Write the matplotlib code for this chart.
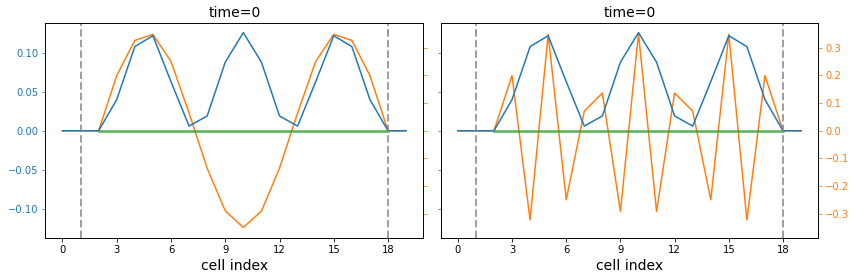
import numpy as np
import matplotlib
matplotlib.use("Agg")
import matplotlib.pyplot as plt

cells = list(range(20))

# values
blue = [0, 0, 0, 0.040, 0.108, 0.122, 0.063, 0.006, 0.019, 0.088,
        0.126, 0.088, 0.019, 0.006, 0.063, 0.122, 0.108, 0.040, 0, 0]
orange_left = [0, 0, 0, 0.199, 0.326, 0.348, 0.250, 0.064, -0.135, -0.289,
               -0.349, -0.290, -0.135, 0.064, 0.250, 0.348, 0.326, 0.199, 0, 0]
orange_right = [0, 0, 0, 0.199, -0.322, 0.348, -0.249, 0.071, 0.136, -0.291,
                0.350, -0.291, 0.136, 0.071, -0.249, 0.348, -0.322, 0.199, 0, 0]
green_x = [2, 18]
green_y = [0, 0]
bounds = [1, 18]
titles = ["time=0", "time=0"]


def draw(rect, y2, title, left_labels, right_labels):
    ax = fig.add_axes(rect)
    tw = ax.twinx()
    ax.set_zorder(tw.get_zorder() + 1)
    ax.patch.set_visible(False)

    tw.plot(cells, y2, color="C1", lw=1.5)
    ax.plot(cells, blue, color="C0", lw=1.5)
    ax.plot(green_x, green_y, color="C2", lw=2.5, alpha=0.8)
    for b in bounds:
        ax.axvline(b, color="gray", ls="--", lw=2, alpha=0.75)

    ax.set_ylim(-0.138, 0.138)
    tw.set_ylim(-0.388, 0.388)
    tw.set_yticks(np.arange(-0.3, 0.31, 0.1))
    ax.set_xlim(-0.95, 19.95)
    ax.set_xticks(range(0, 19, 3))
    ax.tick_params(axis="y", colors="C0", labelleft=left_labels)
    tw.tick_params(axis="y", colors="C1", labelright=right_labels)
    ax.set_title(title, fontsize=14)
    ax.set_xlabel("cell index", fontsize=14)
    return ax, tw


fig = plt.figure(figsize=(856 / 72, 280 / 72), dpi=72)
draw([0.0529, 0.149, 0.4416, 0.768], orange_left, titles[0], True, False)
draw([0.5148, 0.149, 0.4411, 0.768], orange_right, titles[1], False, True)
fig.savefig("out.png", dpi=72)
